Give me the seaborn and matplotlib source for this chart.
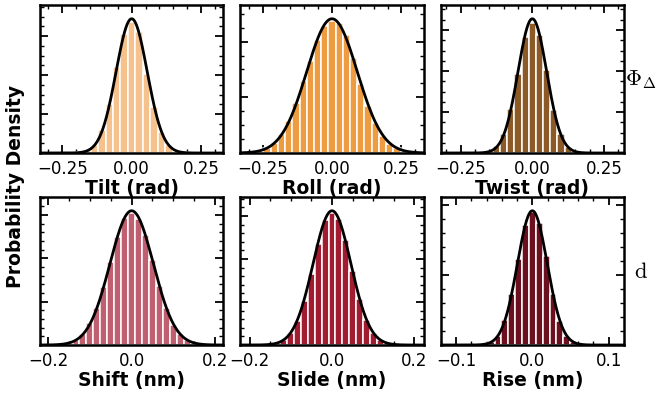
import numpy as np
import pandas as pd
import matplotlib
matplotlib.use("Agg")
import matplotlib.pyplot as plt
import seaborn as sns
from matplotlib.ticker import MultipleLocator, AutoMinorLocator, FuncFormatter

# ---------------- data ----------------
panel_labels = ["Tilt (rad)", "Roll (rad)", "Twist (rad)",
                "Shift (nm)", "Slide (nm)", "Rise (nm)"]
row_labels = [r"$\Phi_\Delta$", r"$\mathrm{d}$"]

fit_mean = [0.0, 0.0, 0.0, 0.0, 0.0, 0.0]
fit_sigma = [0.056, 0.091, 0.050, 0.052, 0.046, 0.0195]
bin_width = [0.0268, 0.026, 0.025, 0.0167, 0.017, 0.009]

tilt_density = [0.04, 0.15, 0.45, 1.20, 2.60, 4.55, 6.30, 6.95, 6.40, 4.20,
                2.45, 1.10, 0.45, 0.12, 0.03]
roll_density = [0.03, 0.08, 0.17, 0.33, 0.62, 1.05, 1.62, 2.35, 3.00, 3.70,
                4.15, 4.30, 4.25, 3.85, 3.10, 2.25, 1.55, 0.98, 0.56, 0.30,
                0.15, 0.07, 0.03]
twist_density = [0.02, 0.10, 0.40, 1.15, 2.60, 4.70, 6.90, 7.75, 7.00, 4.95,
                 2.55, 1.10, 0.38, 0.09, 0.02]
shift_density = [0.04, 0.11, 0.30, 0.62, 1.25, 2.10, 3.30, 4.75, 6.20, 7.25,
                 7.55, 7.20, 6.30, 4.85, 3.40, 2.10, 1.15, 0.62, 0.28, 0.11,
                 0.04]
slide_density = [0.03, 0.10, 0.30, 0.75, 1.55, 2.85, 4.60, 6.55, 8.05, 8.50,
                 8.15, 6.80, 4.75, 2.95, 1.60, 0.75, 0.30, 0.10, 0.03]
rise_density = [0.10, 0.45, 1.40, 3.80, 7.70, 13.10, 18.30, 20.20, 18.60,
                13.50, 7.70, 3.60, 1.40, 0.42, 0.10]
densities = [tilt_density, roll_density, twist_density,
             shift_density, slide_density, rise_density]

xticks_rad = [-0.25, 0.0, 0.25]
xticks_nm = [-0.2, 0.0, 0.2]
xticks_rise = [-0.1, 0.0, 0.1]
xticks = [xticks_rad, xticks_rad, xticks_rad, xticks_nm, xticks_nm, xticks_rise]

# ---------------- styling ----------------
colors = ["#F5C28E", "#EE9C42", "#8C5A27", "#BF5F6F", "#A11B31", "#6C0F1F"]
xlims = [0.33, 0.33, 0.32, 0.22, 0.223, 0.12]
x_minor = [0.05, 0.05, 0.05, 0.05, 0.05, 0.02]
x_dec = [2, 2, 2, 1, 1, 1]
peak_frac = 0.907
ymajor_frac = [39 / 148, 55.7 / 148, 41 / 148, 43.3 / 148, 43 / 148, 70 / 148]
yminor_div = [4, 4, 4, 5, 5, 5]

sns.set_style("ticks")
plt.rcParams["font.family"] = ["DejaVu Sans"]
plt.rcParams["mathtext.fontset"] = "cm"
for key in ["text.color", "axes.labelcolor", "xtick.color", "ytick.color",
            "axes.edgecolor"]:
    plt.rcParams[key] = "black"

fig, axes = plt.subplots(2, 3, figsize=(6.6, 3.94), dpi=100)
fig.subplots_adjust(left=40 / 660, right=624 / 660, top=1 - 5 / 394,
                    bottom=1 - 345 / 394, wspace=17 / 183, hspace=44 / 148)


def make_fmt(d):
    return FuncFormatter(lambda v, p: f"{v:.{d}f}".replace("-", "\u2212"))


for i, ax in enumerate(axes.flat):
    h = np.array(densities[i])
    n = len(h)
    w = bin_width[i]
    centers = fit_mean[i] + (np.arange(n) - (n - 1) / 2) * w
    edges = np.append(centers - w / 2, centers[-1] + w / 2).tolist()
    df = pd.DataFrame({"x": centers, "density": h})
    sns.histplot(data=df, x="x", weights="density", bins=edges,
                 color=colors[i], edgecolor="white", linewidth=1.1,
                 alpha=1.0, ax=ax)
    xs = np.linspace(-xlims[i], xlims[i], 500)
    mu, sd = fit_mean[i], fit_sigma[i]
    pdf = np.exp(-0.5 * ((xs - mu) / sd) ** 2) / (sd * np.sqrt(2 * np.pi))
    sns.lineplot(x=xs, y=pdf, color="black", linewidth=2.0, ax=ax)

    ytop = pdf.max() / peak_frac
    ax.set_xlim(-xlims[i], xlims[i])
    ax.set_ylim(0, ytop)
    ax.set_xticks(xticks[i])
    ax.xaxis.set_major_formatter(make_fmt(x_dec[i]))
    ax.xaxis.set_minor_locator(MultipleLocator(x_minor[i]))
    ax.yaxis.set_major_locator(MultipleLocator(ytop * ymajor_frac[i]))
    ax.yaxis.set_minor_locator(AutoMinorLocator(yminor_div[i]))
    ax.tick_params(which="both", direction="in", top=True, right=True,
                   labelleft=False, labelsize=12, pad=5, colors="black")
    ax.tick_params(which="major", length=5.5, width=1.3)
    ax.tick_params(which="minor", length=3, width=1.0)
    for sp in ax.spines.values():
        sp.set_linewidth(1.8)
        sp.set_color("black")
    ax.set_ylabel("")
    ax.set_xlabel(panel_labels[i], fontsize=13.5, fontweight="bold",
                  labelpad=1, color="black")

fig.text(0.024, 1 - 186 / 394, "Probability Density", rotation=90,
         ha="center", va="center", fontsize=13.5, fontweight="bold",
         color="black")
fig.text(641 / 660, 1 - 80 / 394, row_labels[0], ha="center", va="center",
         fontsize=16, color="black")
fig.text(641 / 660, 1 - 272 / 394, row_labels[1], ha="center", va="center",
         fontsize=16, color="black")

fig.savefig("out.png", dpi=100)
